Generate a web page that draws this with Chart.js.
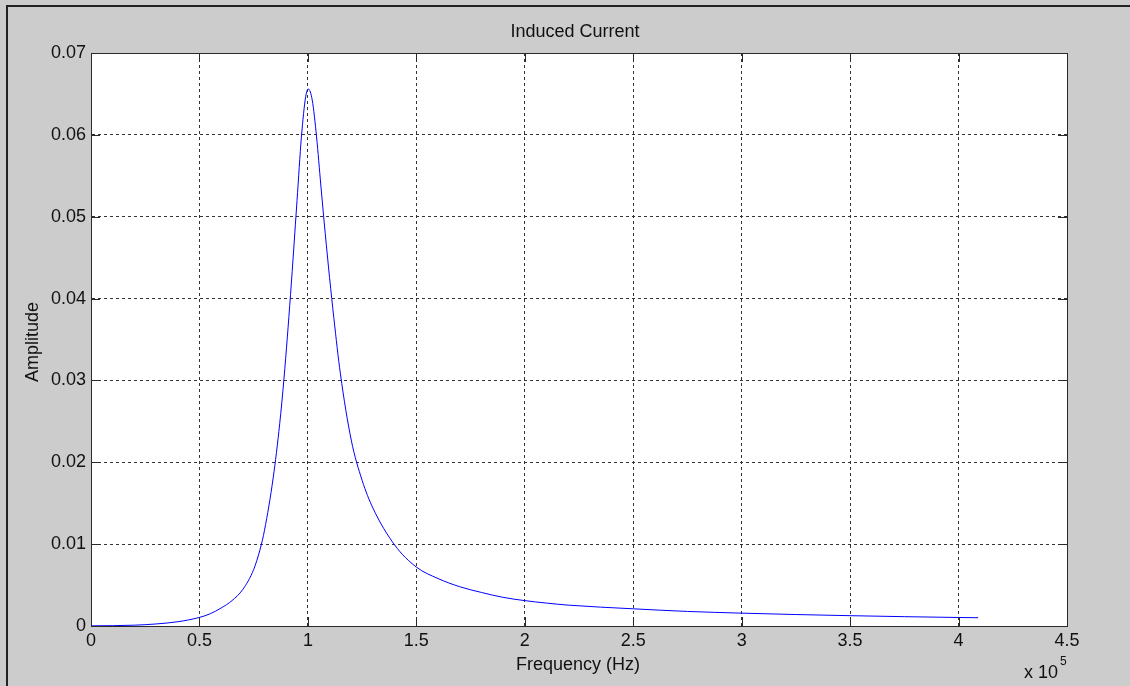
<!DOCTYPE html>
<html><head><meta charset="utf-8">
<script src="https://cdn.jsdelivr.net/npm/chart.js@4/dist/chart.umd.min.js"></script>
<style>html,body{margin:0;padding:0;background:#cccccc;overflow:hidden}canvas{display:block}</style>
</head><body>
<canvas id="c" width="1130" height="686"></canvas>
<script>
// Frequency in units of 10^5 Hz
const frequency = [0, 0.1, 0.2, 0.3, 0.4, 0.5, 0.55, 0.6, 0.65, 0.7, 0.75, 0.78, 0.8, 0.84, 0.87, 0.89, 0.92, 0.95, 0.97, 0.99, 1.002, 1.02, 1.04, 1.06, 1.08, 1.1, 1.12, 1.15, 1.2, 1.25, 1.3, 1.4, 1.5, 1.6, 1.7, 1.8, 1.9, 2.0, 2.1, 2.2, 2.5, 2.75, 3.0, 3.25, 3.5, 3.75, 4.0, 4.09];
const amplitude = [0.00002, 0.00004, 0.0001, 0.00025, 0.00052, 0.00105, 0.0015, 0.0022, 0.0031, 0.00447, 0.0069, 0.0094, 0.0117, 0.0181, 0.0247, 0.0303, 0.0405, 0.0520, 0.0597, 0.0647, 0.0656, 0.06425, 0.05975, 0.05375, 0.04795, 0.04255, 0.03755, 0.0308, 0.0227, 0.0178, 0.0144, 0.0099, 0.0072, 0.0058, 0.0048, 0.0041, 0.0035, 0.0031, 0.0028, 0.00255, 0.0021, 0.00178, 0.00157, 0.0014, 0.00126, 0.00114, 0.00104, 0.00101];
const xTicks = [0, 0.5, 1, 1.5, 2, 2.5, 3, 3.5, 4, 4.5];
const xTickLabels = ['0', '0.5', '1', '1.5', '2', '2.5', '3', '3.5', '4', '4.5'];
const yTicks = [0, 0.01, 0.02, 0.03, 0.04, 0.05, 0.06, 0.07];
const yTickLabels = ['0', '0.01', '0.02', '0.03', '0.04', '0.05', '0.06', '0.07'];
const titleText = 'Induced Current';
const xLabel = 'Frequency (Hz)';
const yLabel = 'Amplitude';
const xExponentBase = 'x 10';
const xExponent = '5';

const FONT = '"Liberation Sans", Arial, sans-serif';

const decor = {
  id: 'decor',
  beforeDraw(chart) {
    const ctx = chart.ctx, a = chart.chartArea;
    ctx.save();
    ctx.fillStyle = '#cccccc';
    ctx.fillRect(0, 0, chart.width, chart.height);
    ctx.strokeStyle = '#222222';
    ctx.lineWidth = 2;
    ctx.beginPath();
    ctx.moveTo(7, chart.height);
    ctx.lineTo(7, 6);
    ctx.lineTo(chart.width, 6);
    ctx.stroke();
    ctx.fillStyle = '#ffffff';
    ctx.fillRect(a.left, a.top, a.right - a.left, a.bottom - a.top);
    ctx.restore();
  },
  afterDraw(chart) {
    const ctx = chart.ctx, a = chart.chartArea;
    const xs = chart.scales.x, ys = chart.scales.y;
    ctx.save();
    ctx.strokeStyle = '#2a2a2a';
    ctx.lineWidth = 1;
    ctx.beginPath();
    const L = 9;
    xTicks.forEach(v => {
      const p = Math.round(xs.getPixelForValue(v)) + 0.5;
      ctx.moveTo(p, a.bottom); ctx.lineTo(p, a.bottom - L);
      ctx.moveTo(p, a.top); ctx.lineTo(p, a.top + L);
    });
    yTicks.forEach(v => {
      const p = Math.round(ys.getPixelForValue(v)) + 0.5;
      ctx.moveTo(a.left, p); ctx.lineTo(a.left + L, p);
      ctx.moveTo(a.right, p); ctx.lineTo(a.right - L, p);
    });
    ctx.stroke();
    ctx.strokeRect(Math.round(a.left) + 0.5, Math.round(a.top) + 0.5, Math.round(a.right - a.left), Math.round(a.bottom - a.top));

    ctx.fillStyle = '#111111';
    ctx.textAlign = 'center';
    ctx.textBaseline = 'middle';
    ctx.font = '18px ' + FONT;
    ctx.fillText(titleText, 575, 32);
    ctx.fillText(xLabel, 578, 665);
    ctx.save();
    ctx.translate(33, 342);
    ctx.rotate(-Math.PI / 2);
    ctx.fillText(yLabel, 0, 0);
    ctx.restore();
    ctx.textAlign = 'left';
    ctx.font = '18px ' + FONT;
    ctx.fillText(xExponentBase, 1024, 673);
    ctx.font = '12px ' + FONT;
    ctx.fillText(xExponent, 1060, 662);
    ctx.restore();
  }
};

new Chart(document.getElementById('c'), {
  type: 'line',
  data: {
    datasets: [{
      data: frequency.map((f, i) => ({ x: f, y: amplitude[i] })),
      borderColor: '#0000ff',
      borderWidth: 1,
      pointRadius: 0,
      fill: false,
      cubicInterpolationMode: 'monotone'
    }]
  },
  options: {
    responsive: false,
    devicePixelRatio: 1,
    animation: false,
    layout: { padding: { left: 0, top: 53, right: 63, bottom: 0 } },
    plugins: { legend: { display: false }, title: { display: false }, tooltip: { enabled: false } },
    scales: {
      x: {
        type: 'linear', min: 0, max: 4.5,
        afterBuildTicks: s => { s.ticks = xTicks.map(v => ({ value: v })); },
        afterFit: s => { s.height = 60; },
        ticks: { color: '#111111', font: { family: FONT, size: 18 }, padding: 4, maxRotation: 0, autoSkip: false,
          callback: (v, i) => xTickLabels[i] },
        grid: { color: '#333333', drawTicks: false, lineWidth: 1 },
        border: { display: true, color: '#2a2a2a', dash: [3, 3] }
      },
      y: {
        type: 'linear', min: 0, max: 0.07,
        afterBuildTicks: s => { s.ticks = yTicks.map(v => ({ value: v })); },
        afterFit: s => { s.width = 91; },
        ticks: { color: '#111111', font: { family: FONT, size: 18 }, padding: 5, autoSkip: false,
          callback: (v, i) => yTickLabels[i] },
        grid: { color: '#333333', drawTicks: false, lineWidth: 1 },
        border: { display: true, color: '#2a2a2a', dash: [3, 3] }
      }
    }
  },
  plugins: [decor]
});
</script>
</body></html>
